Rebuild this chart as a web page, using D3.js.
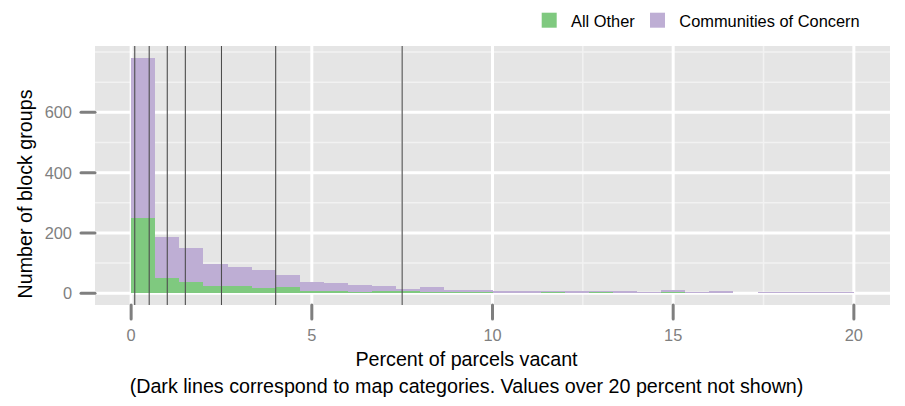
<!DOCTYPE html>
<html><head><meta charset="utf-8">
<script src="https://cdn.jsdelivr.net/npm/d3@7"></script>
<style>body{margin:0;background:#fff} text{font-family:"Liberation Sans",Arial,Helvetica,sans-serif}</style>
</head><body><svg id="c" width="905" height="406"></svg>
<script>
// ---- data ----
const categories = ["All Other", "Communities of Concern"];
const allOther    = [250, 50, 37, 24, 24, 18, 20, 6, 7, 4, 7, 6, 5, 3, 3, 0, 0, 3, 1, 4, 0, 0, 5, 2, 2, 0, 0, 2, 2, 2];
const communities = [531, 138, 113, 73, 63, 59, 40, 31, 27, 24, 17, 8, 15, 7, 7, 9, 7, 3, 6, 3, 7, 4, 6, 2, 5, 2, 4, 2, 2, 2];
const binRange = [0, 20];
const xTicks = [0, 5, 10, 15, 20];
const xMinor = [2.5, 7.5, 12.5, 17.5];
const yTicks = [0, 200, 400, 600];
const yMinor = [100, 300, 500, 700, 800];
const mapBreaks = [0.1, 0.5, 1, 1.5, 2.5, 4, 7.5];
const colors = ["#7fc97f", "#beaed4"];
const xTitle = "Percent of parcels vacant";
const subTitle = "(Dark lines correspond to map categories. Values over 20 percent not shown)";
const yTitle = "Number of block groups";

// ---- layout ----
const svg = d3.select("#c");
const P = {l: 95, r: 890, t: 46, b: 305};
const nb = allOther.length;
const bw = (binRange[1] - binRange[0]) / nb;
const rows = allOther.map((v, i) => ({x0: binRange[0] + i * bw, x1: binRange[0] + (i + 1) * bw,
  "All Other": v, "Communities of Concern": communities[i]}));
const stacked = d3.stack().keys(categories)(rows);
const ymax = d3.max(rows, d => d["All Other"] + d["Communities of Concern"]);
const xspan = binRange[1] - binRange[0];
const x = d3.scaleLinear().domain([binRange[0] - xspan * 0.05, binRange[1] + xspan * 0.05]).range([P.l, P.r]);
const y = d3.scaleLinear().domain([-ymax * 0.05, ymax * 1.05]).range([P.b, P.t]);

// panel
svg.append("rect").attr("x", P.l).attr("y", P.t).attr("width", P.r - P.l).attr("height", P.b - P.t).attr("fill", "#e5e5e5");
const g = svg.append("g");
g.selectAll(".ymin").data(yMinor).join("line").attr("x1", P.l).attr("x2", P.r)
  .attr("y1", d => y(d)).attr("y2", d => y(d)).attr("stroke", "#f2f2f2").attr("stroke-width", 1.5);
g.selectAll(".xmin").data(xMinor).join("line").attr("y1", P.t).attr("y2", P.b)
  .attr("x1", d => x(d)).attr("x2", d => x(d)).attr("stroke", "#f2f2f2").attr("stroke-width", 1.5);
const g2 = svg.append("g");
g2.selectAll("line.ym").data(yTicks).join("line").attr("x1", P.l).attr("x2", P.r)
  .attr("y1", d => y(d)).attr("y2", d => y(d)).attr("stroke", "#fff").attr("stroke-width", 3);
const g3 = svg.append("g");
g3.selectAll("line").data(xTicks).join("line").attr("y1", P.t).attr("y2", P.b)
  .attr("x1", d => x(d)).attr("x2", d => x(d)).attr("stroke", "#fff").attr("stroke-width", 3);

// bars
stacked.forEach((s, k) => {
  svg.append("g").selectAll("rect").data(s).join("rect")
    .attr("x", d => x(d.data.x0)).attr("width", d => x(d.data.x1) - x(d.data.x0))
    .attr("y", d => y(d[1])).attr("height", d => Math.max(0, y(d[0]) - y(d[1])))
    .attr("fill", colors[k]).attr("shape-rendering", "crispEdges");
});

// map category lines
svg.append("g").selectAll("line").data(mapBreaks).join("line")
  .attr("x1", d => x(d)).attr("x2", d => x(d)).attr("y1", P.t).attr("y2", P.b)
  .attr("stroke", "#4d4d4d").attr("stroke-width", 1.1);

// axes ticks
svg.append("g").selectAll("line").data(xTicks).join("line")
  .attr("x1", d => x(d)).attr("x2", d => x(d)).attr("y1", P.b).attr("y2", P.b + 14)
  .attr("stroke", "#7f7f7f").attr("stroke-width", 3).attr("stroke-linecap", "round");
svg.append("g").selectAll("line").data(yTicks).join("line")
  .attr("y1", d => y(d)).attr("y2", d => y(d)).attr("x1", P.l - 14).attr("x2", P.l)
  .attr("stroke", "#7f7f7f").attr("stroke-width", 3).attr("stroke-linecap", "round");
svg.append("g").selectAll("text").data(xTicks).join("text")
  .attr("x", d => x(d)).attr("y", 341).attr("text-anchor", "middle")
  .attr("font-size", 16.4).attr("fill", "#7f7f7f").text(d => d);
svg.append("g").selectAll("text").data(yTicks).join("text")
  .attr("x", 72).attr("y", d => y(d) + 6).attr("text-anchor", "end")
  .attr("font-size", 16.4).attr("fill", "#7f7f7f").text(d => d);

// titles
svg.append("text").attr("x", 466.5).attr("y", 366).attr("text-anchor", "middle")
  .attr("font-size", 19.7).attr("fill", "#000").text(xTitle);
svg.append("text").attr("x", 466.5).attr("y", 393).attr("text-anchor", "middle")
  .attr("font-size", 19.7).attr("fill", "#000").text(subTitle);
svg.append("text").attr("transform", "translate(32,194) rotate(-90)").attr("text-anchor", "middle")
  .attr("font-size", 19.7).attr("fill", "#000").text(yTitle);

// legend
const legX = [541.7, 650];
const lg = svg.append("g").selectAll("g").data(categories).join("g")
  .attr("transform", (d, i) => `translate(${legX[i]},12.7)`);
lg.append("rect").attr("width", 15).attr("height", 15).attr("fill", (d, i) => colors[i]);
lg.append("text").attr("x", 29.3).attr("y", 14.4).attr("font-size", 16.4).attr("fill", "#000").text(d => d);
</script></body></html>
